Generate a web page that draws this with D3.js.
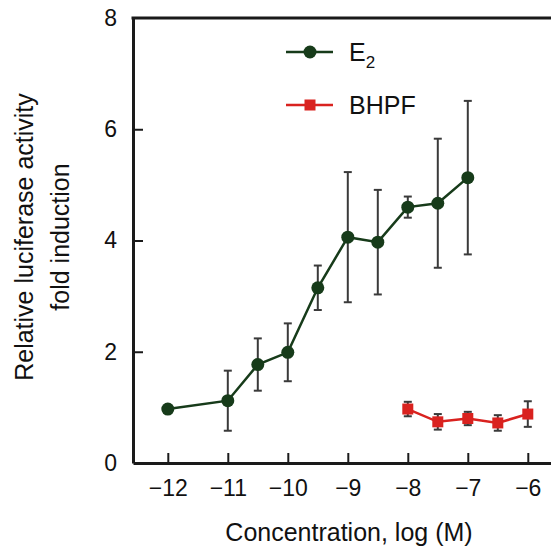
<!DOCTYPE html>
<html>
<head>
<meta charset="utf-8">
<script src="https://cdn.jsdelivr.net/npm/d3@7"></script>
<style>
  body { margin: 0; background: #fff; }
  text { font-family: 'Liberation Sans', Arial, sans-serif; fill: #111; }
</style>
</head>
<body>
<svg width="551" height="551"></svg>
<script>
// data
const e2Conc = [-12, -11, -10.5, -10, -9.5, -9, -8.5, -8, -7.5, -7];
const e2Mean = [0.97, 1.12, 1.77, 1.99, 3.15, 4.06, 3.97, 4.60, 4.67, 5.13];
const e2Err  = [0, 0.54, 0.47, 0.52, 0.40, 1.17, 0.94, 0.19, 1.16, 1.38];

const bhpfConc = [-8, -7.5, -7, -6.5, -6];
const bhpfMean = [0.97, 0.74, 0.80, 0.72, 0.88];
const bhpfErr  = [0.13, 0.14, 0.12, 0.14, 0.23];

const xTicks = [-12, -11, -10, -9, -8, -7, -6];
const yTicks = [0, 2, 4, 6, 8];

const svg = d3.select('svg');
const width = +svg.attr('width');

const green = '#173b1a';
const red = '#d9221f';
const errColor = '#3a3a3a';

// scales
const x = d3.scaleLinear().domain([-12.58, -5.6]).range([133, 551.8]);
const y = d3.scaleLinear().domain([0, 8]).range([463, 18]);

const e2 = e2Conc.map((c, i) => ({ c, m: e2Mean[i], e: e2Err[i] }));
const bhpf = bhpfConc.map((c, i) => ({ c, m: bhpfMean[i], e: bhpfErr[i] }));

// axes (ticks pointing inward)
const xAxis = svg.append('g')
    .attr('transform', `translate(0,${y(0)})`)
    .call(d3.axisBottom(x).tickValues(xTicks).tickFormat(d3.format('d'))
        .tickSize(-10).tickSizeOuter(0).tickPadding(17));
const yAxis = svg.append('g')
    .attr('transform', `translate(${x.range()[0]},0)`)
    .call(d3.axisLeft(y).tickValues(yTicks).tickSize(-10).tickSizeOuter(0).tickPadding(16));

[xAxis, yAxis].forEach(g => {
    g.select('.domain').attr('stroke', '#1a1a1a').attr('stroke-width', 3);
    g.selectAll('.tick line').attr('stroke', '#1a1a1a').attr('stroke-width', 2);
    g.selectAll('.tick text').attr('font-size', 23).attr('fill', '#111')
        .style('font-family', "'Liberation Sans', Arial, sans-serif");
});
yAxis.selectAll('.tick line').filter(d => d === 0 || d === 8).remove();
xAxis.selectAll('.tick text').attr('dy', '0.71em');

// top frame line
svg.append('line')
    .attr('x1', x.range()[0] - 1.5).attr('x2', width)
    .attr('y1', y(8)).attr('y2', y(8))
    .attr('stroke', '#1a1a1a').attr('stroke-width', 3);

// draws one series: line, error bars, markers
const drawSeries = (data, color, shape) => {
    const g = svg.append('g');
    g.append('path')
        .datum(data)
        .attr('fill', 'none')
        .attr('stroke', color)
        .attr('stroke-width', 2.5)
        .attr('d', d3.line().x(d => x(d.c)).y(d => y(d.m)));

    const err = g.selectAll('.err').data(data.filter(d => d.e > 0))
        .enter().append('g').attr('class', 'err');
    err.append('line')
        .attr('x1', d => x(d.c)).attr('x2', d => x(d.c))
        .attr('y1', d => y(d.m + d.e)).attr('y2', d => y(d.m - d.e));
    err.append('line')
        .attr('x1', d => x(d.c) - 4).attr('x2', d => x(d.c) + 4)
        .attr('y1', d => y(d.m + d.e)).attr('y2', d => y(d.m + d.e));
    err.append('line')
        .attr('x1', d => x(d.c) - 4).attr('x2', d => x(d.c) + 4)
        .attr('y1', d => y(d.m - d.e)).attr('y2', d => y(d.m - d.e));
    err.selectAll('line').attr('stroke', errColor).attr('stroke-width', 2);

    if (shape === 'circle') {
        g.selectAll('circle').data(data).enter().append('circle')
            .attr('cx', d => x(d.c)).attr('cy', d => y(d.m))
            .attr('r', 6.5).attr('fill', color);
    } else {
        g.selectAll('rect.mk').data(data).enter().append('rect')
            .attr('class', 'mk')
            .attr('x', d => x(d.c) - 5.5).attr('y', d => y(d.m) - 5.5)
            .attr('width', 11).attr('height', 11).attr('fill', color);
    }
};

drawSeries(e2, green, 'circle');
drawSeries(bhpf, red, 'square');

// legend
const legend = svg.append('g');
legend.append('line').attr('x1', 286).attr('x2', 333).attr('y1', 52).attr('y2', 52)
    .attr('stroke', green).attr('stroke-width', 2.5);
legend.append('circle').attr('cx', 310).attr('cy', 52).attr('r', 6.5).attr('fill', green);
const e2Label = legend.append('text').attr('x', 349).attr('y', 61).attr('font-size', 25);
e2Label.append('tspan').text('E');
e2Label.append('tspan').attr('dy', 7).attr('font-size', 17).text('2');

legend.append('line').attr('x1', 286).attr('x2', 333).attr('y1', 105).attr('y2', 105)
    .attr('stroke', red).attr('stroke-width', 2.5);
legend.append('rect').attr('x', 304.5).attr('y', 99.5).attr('width', 11).attr('height', 11)
    .attr('fill', red);
legend.append('text').attr('x', 349).attr('y', 114).attr('font-size', 25).text('BHPF');

// axis titles
svg.append('text')
    .attr('x', 349).attr('y', 541)
    .attr('text-anchor', 'middle')
    .attr('font-size', 25)
    .text('Concentration, log (M)');

const yTitle = svg.append('text')
    .attr('transform', 'translate(33,237) rotate(-90)')
    .attr('text-anchor', 'middle')
    .attr('font-size', 25);
yTitle.append('tspan').attr('x', 0).attr('dy', 0).text('Relative luciferase activity');
yTitle.append('tspan').attr('x', 0).attr('dy', 36).text('fold induction');
</script>
</body>
</html>
